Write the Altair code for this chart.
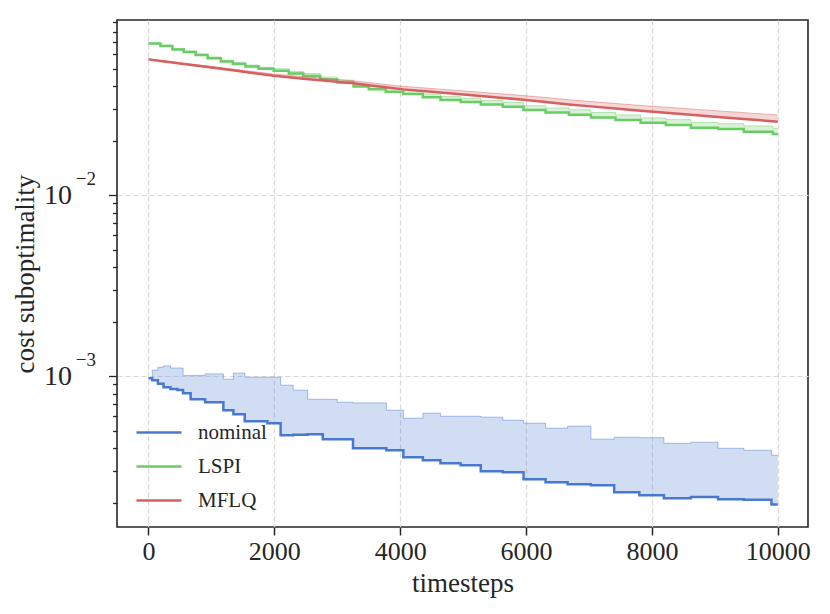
import altair as alt
import pandas as pd

# ---- nominal (own checkpoint grid) ----
nom_t = [0, 60, 150, 240, 350, 460, 550, 670, 900, 1190,
         1350, 1530, 1890, 2100, 2300, 2530, 2770, 3000, 3250, 3780,
         4050, 4360, 4640, 4960, 5280, 5630, 5960, 6310, 6660, 7030,
         7400, 7800, 8190, 8620, 9050, 9460, 9900, 10000]
nom_val = [0.000975, 0.00095, 0.00091, 0.00087, 0.00085, 0.00084, 0.000806, 0.000746, 0.000718, 0.000649,
           0.000617, 0.000564, 0.00055, 0.000472, 0.000475, 0.000478, 0.000449, 0.000449, 0.0004, 0.00039,
           0.000357, 0.000343, 0.000331, 0.000322, 0.000299, 0.000295, 0.00027, 0.00026, 0.000253, 0.00025,
           0.000229, 0.00022, 0.000212, 0.000215, 0.000209, 0.000208, 0.000196, 0.000196]
nom_up = [0.000975, 0.00108, 0.00112, 0.00114, 0.00111, 0.00111, 0.00101, 0.00101, 0.00103, 0.000963,
          0.00104, 0.000987, 0.000987, 0.000892, 0.000837, 0.000746, 0.000746, 0.000718, 0.000712, 0.000649,
          0.000586, 0.000625, 0.000601, 0.000601, 0.000594, 0.000571, 0.00055, 0.000516, 0.00053, 0.000449,
          0.00046, 0.000458, 0.000426, 0.000432, 0.0004, 0.00039, 0.000366, 0.000366]

# ---- LSPI / MFLQ checkpoint grid ----
grid_t = [0, 190, 380, 560, 750, 940, 1150, 1340, 1540, 1750,
          1990, 2230, 2460, 2730, 3000, 3260, 3500, 3770, 4050, 4360,
          4640, 4960, 5280, 5630, 5960, 6310, 6680, 7030, 7420, 7820,
          8220, 8620, 9050, 9460, 9920, 10000]
lspi_val = [0.06886, 0.06654, 0.06365, 0.06166, 0.05935, 0.05691, 0.05465, 0.05294, 0.05128, 0.04987,
            0.04861, 0.04692, 0.04545, 0.04346, 0.04183, 0.03975, 0.03837, 0.03721, 0.03614, 0.03466,
            0.03349, 0.03265, 0.03170, 0.03075, 0.02948, 0.02863, 0.02777, 0.02687, 0.02597, 0.02508,
            0.02436, 0.02354, 0.02316, 0.02237, 0.02173, 0.02173]
lspi_up = [0.0693, 0.0674, 0.0645, 0.0625, 0.0601, 0.0580, 0.0557, 0.0540, 0.0523, 0.0508,
           0.0499, 0.0481, 0.0469, 0.0449, 0.0432, 0.0410, 0.0399, 0.0387, 0.0378, 0.0362,
           0.0350, 0.0343, 0.0333, 0.0326, 0.0312, 0.0303, 0.0296, 0.0286, 0.0277, 0.0267,
           0.0261, 0.0252, 0.0248, 0.0241, 0.0234, 0.0234]
mflq_val = [0.05619, 0.05507, 0.05402, 0.05300, 0.05194, 0.05096, 0.04987, 0.04887, 0.04782, 0.04680,
            0.04562, 0.04482, 0.04397, 0.04309, 0.04221, 0.04142, 0.04048, 0.03941, 0.03837, 0.03759,
            0.03684, 0.03605, 0.03527, 0.03443, 0.03361, 0.03269, 0.03170, 0.03091, 0.03005, 0.02922,
            0.02849, 0.02777, 0.02700, 0.02632, 0.02557, 0.02545]
mflq_up = [0.05655, 0.05550, 0.05453, 0.05357, 0.05258, 0.05166, 0.05064, 0.04971, 0.04871, 0.04775,
           0.04664, 0.04590, 0.04512, 0.04431, 0.04350, 0.04277, 0.04188, 0.04086, 0.03987, 0.03915,
           0.03845, 0.03772, 0.03700, 0.03622, 0.03545, 0.03458, 0.03362, 0.03288, 0.03206, 0.03127,
           0.03059, 0.02991, 0.02918, 0.02854, 0.02783, 0.02771]

series_names = ["nominal", "LSPI", "MFLQ"]
series_colors = ["#4878d0", "#6acc64", "#d65f5f"]

y_major = [0.001, 0.01]
y_exponents = ["−3", "−2"]
y_ticks = [0.0002, 0.0003, 0.0004, 0.0005, 0.0006, 0.0007, 0.0008, 0.0009, 0.001,
           0.002, 0.003, 0.004, 0.005, 0.006, 0.007, 0.008, 0.009, 0.01,
           0.02, 0.03, 0.04, 0.05, 0.06, 0.07, 0.08, 0.09]
x_ticks = [0, 2000, 4000, 6000, 8000, 10000]

nom = pd.DataFrame({"t": nom_t, "v": nom_val, "up": nom_up, "series": "nominal"})
lspi = pd.DataFrame({"t": grid_t, "v": lspi_val, "up": lspi_up, "series": "LSPI"})
mflq = pd.DataFrame({"t": grid_t, "v": mflq_val, "up": mflq_up, "series": "MFLQ"})
majors = pd.DataFrame({"t": [0, 0], "v": y_major, "exp": y_exponents})

FONT = "Liberation Serif"
TXT = "#262626"
major_test = "datum.value == 0.01 || datum.value == 0.001"

xenc = alt.X("t:Q", scale=alt.Scale(domain=[-500, 10480], nice=False, zero=False),
             axis=alt.Axis(values=x_ticks, format="d", title="timesteps", labelFontSize=26, titleFontSize=27,
                           labelFont=FONT, titleFont=FONT, labelColor=TXT, titleColor=TXT,
                           tickSize=8, tickWidth=1.5, tickColor=TXT, domain=False,
                           grid=True, gridDash=[5, 3], gridColor="#d8d8d8", gridWidth=1.2,
                           labelPadding=3, titlePadding=6, titleFontWeight="normal"))
yscale = alt.Scale(type="log", domain=[0.000147, 0.0927], nice=False)
yaxis = alt.Axis(values=y_ticks, title="cost suboptimality", orient="left",
                 labelExpr="(datum.value == 0.01 || datum.value == 0.001) ? '10' : ''",
                 labelFontSize=28, titleFontSize=27, labelFont=FONT, titleFont=FONT,
                 labelColor=TXT, titleColor=TXT, titleFontWeight="normal", labelBaseline="middle",
                 tickSize={"condition": {"test": major_test, "value": 8.5}, "value": 4.5},
                 tickWidth=1.3, tickColor=TXT, domain=False,
                 grid=True, gridDash=[5, 3], gridColor="#d8d8d8", gridWidth=1.2,
                 gridOpacity={"condition": {"test": major_test, "value": 1}, "value": 0},
                 labelPadding=37, titlePadding=4)
supaxis = alt.Axis(values=y_major, title=None, orient="left",
                   labelExpr="datum.value == 0.01 ? '−2' : '−3'",
                   labelFontSize=19, labelFont=FONT, labelColor=TXT, labelBaseline="middle",
                   translate=-16, ticks=False, tickSize=0, domain=False, grid=False, labelPadding=5)

cscale = alt.Scale(domain=series_names, range=series_colors)
color = alt.Color("series:N", scale=cscale,
                  legend=alt.Legend(title=None, orient="none", legendX=18, legendY=388.5,
                                    symbolType="M-1,0L1,0", symbolSize=2025, symbolStrokeWidth=2.5,
                                    labelFont=FONT, labelFontSize=21, labelColor=TXT,
                                    labelOffset=15, rowPadding=0, padding=0))


def layers(df, interp, col):
    band = alt.Chart(df).mark_area(interpolate=interp, opacity=0.25, color=col).encode(
        x=xenc, y=alt.Y("v:Q", scale=yscale, axis=yaxis), y2="up:Q")
    edge = alt.Chart(df).mark_line(interpolate=interp, strokeWidth=1, opacity=0.45, color=col).encode(
        x=xenc, y=alt.Y("up:Q", scale=yscale, axis=yaxis))
    line = alt.Chart(df).mark_line(interpolate=interp, strokeWidth=2.5).encode(
        x=xenc, y=alt.Y("v:Q", scale=yscale, axis=yaxis), color=color)
    return [band, edge, line]


main = alt.layer(
    *layers(nom, "step-after", series_colors[0]),
    *layers(lspi, "step-after", series_colors[1]),
    *layers(mflq, "linear", series_colors[2]),
)
sup = alt.Chart(majors).mark_point(opacity=0).encode(
    x=xenc, y=alt.Y("v:Q", scale=yscale, axis=supaxis))

chart = alt.layer(main, sup).resolve_axis(y="independent").properties(
    width=691, height=507,
    autosize=alt.AutoSizeParams(type="none"),
    padding={"left": 109, "top": 12, "right": 14, "bottom": 75},
    background="white",
).configure_view(
    stroke=TXT, strokeWidth=1.6
)

chart.save("out.html", embed_options={"renderer": "svg", "actions": False})
